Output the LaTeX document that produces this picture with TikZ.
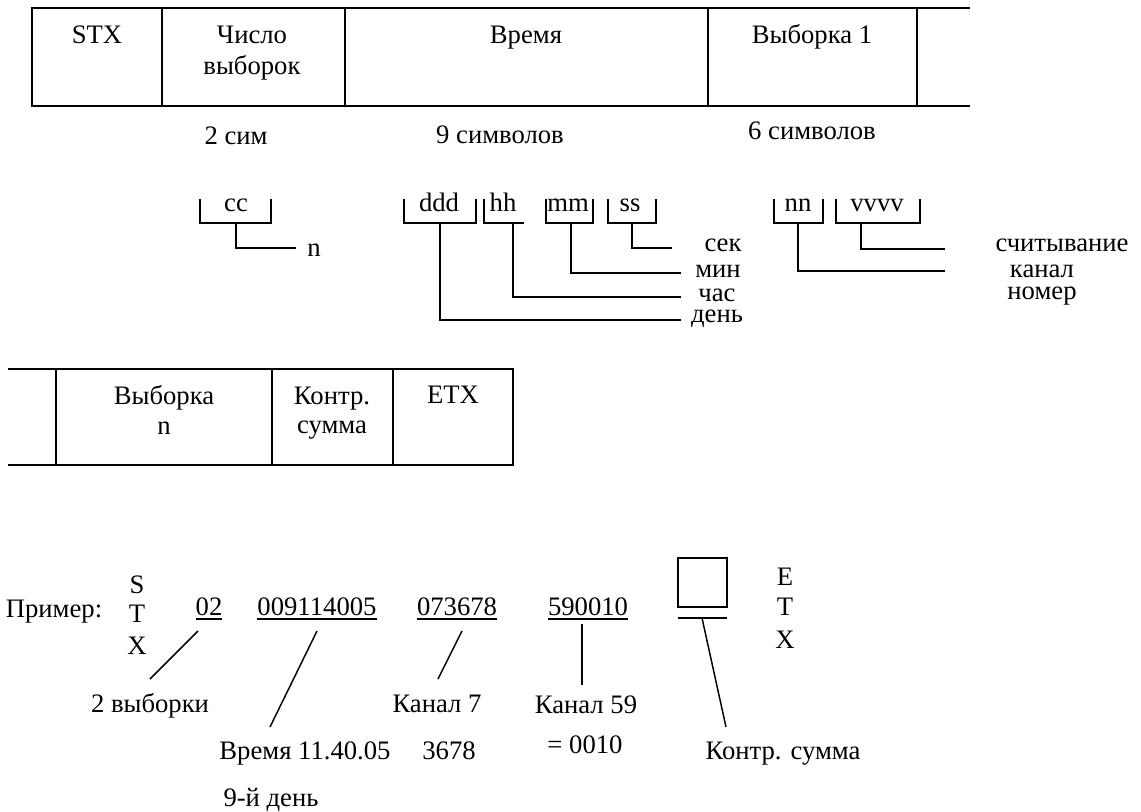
\documentclass[tikz,border=0pt]{standalone}
\usepackage{fontspec}
\setmainfont{Liberation Serif}
\begin{document}
\begin{tikzpicture}[x=0.75pt,y=-0.75pt,
  every node/.style={inner sep=0pt,outer sep=0pt,anchor=base,font=\fontsize{20}{24}\selectfont},
  frame/.style={line width=1.5pt},
  conn/.style={line width=1.1pt},
  ul/.style={line width=1.1pt}]
\useasboundingbox (0,0) rectangle (1141,812);

% ---------- top table ----------
\draw[frame] (970,8) -- (32,8) -- (32,106) -- (970,106);
\foreach \x in {162,345,708,917} \draw[frame] (\x,8) -- (\x,106);
\node (stx) at (97,44) {STX};
\node (chislo1) at (252,44) {Число};
\node (chislo2) at (252,75) {выборок};
\node (vremya) at (526,44) {Время};
\node (vyb1) at (812,44) {Выборка 1};

\node (c2) at (236,145) {2 сим};
\node (c9) at (500,144) {9 символов};
\node (c6) at (812,140) {6 символов};

% ---------- brackets ----------
\node (cc) at (236,212) {cc};
\draw[conn] (200,199) |- (271,223) -- (271,199);
\node (ddd) at (439,212) {ddd};
\draw[conn] (404,199) |- (476,223) -- (476,199);
\node (hh) at (503,212) {hh};
\draw[conn] (484,199) |- (524,223);
\node (mm) at (568,212) {mm};
\draw[conn] (546,199) |- (593,223) -- (593,199);
\node (ss) at (630,212) {ss};
\draw[conn] (608,199) |- (656,223) -- (656,199);
\node (nn) at (798,212) {nn};
\draw[conn] (774,199) |- (823,223) -- (823,199);
\node (vvvv) at (877,212) {vvvv};
\draw[conn] (836,199) |- (920,223) -- (920,199);

\coordinate (ccB) at (236,223);   \coordinate (nE) at (296,248);
\coordinate (ssB) at (632,223);   \coordinate (sekE) at (672,248);
\coordinate (mmB) at (571,223);   \coordinate (minE) at (681,273);
\coordinate (hhB) at (513,223);   \coordinate (chasE) at (681,297);
\coordinate (dddB) at (440,223);  \coordinate (denE) at (681,320);
\coordinate (vvB) at (861,223);   \coordinate (schE) at (945,249);
\coordinate (nnB) at (798,223);   \coordinate (kanE) at (945,271);
\draw[conn] (ccB) |- (nE);
\draw[conn] (ssB) |- (sekE);
\draw[conn] (mmB) |- (minE);
\draw[conn] (hhB) |- (chasE);
\draw[conn] (dddB) |- (denE);
\draw[conn] (vvB) |- (schE);
\draw[conn] (nnB) |- (kanE);

\node (n) at (314,257) {n};
\node (sek) at (723,252) {сек};
\node (min) at (718,278) {мин};
\node (chas) at (717,302) {час};
\node (den) at (717,323) {день};
\node (sch) at (1062,252) {считывание};
\node (kanal) at (1042,278) {канал};
\node (nomer) at (1042,300) {номер};

% ---------- bottom table ----------
\draw[frame] (8,369) -- (513,369) -- (513,465) -- (8,465);
\foreach \x in {56,272,393} \draw[frame] (\x,369) -- (\x,465);
\node (vybn1) at (164,404) {Выборка};
\node (vybn2) at (164,434) {n};
\node (ks1) at (332,404) {Контр.};
\node (ks2) at (332,433) {сумма};
\node (etx) at (453,403) {ETX};

% ---------- example ----------
\node (primer) at (54,617) {Пример:};
\node (s1) at (137,593) {S};
\node (t1) at (137,622) {T};
\node (x1) at (137,654) {X};
\node (e02) at (209,615) {02};
\node (e009) at (317,615) {009114005};
\node (e073) at (457,615) {073678};
\node (e590) at (588,615) {590010};
\foreach \n in {e02,e009,e073,e590}
  \draw[ul] ([yshift=-3pt]\n.base west) -- ([yshift=-3pt]\n.base east);

\node (l2v) at (150,712) {2 выборки};
\node (lvr) at (305,759) {Время 11.40.05};
\node (l9d) at (271,806) {9-й день};
\node (lk7) at (437,712) {Канал 7};
\node (l3678) at (449,759) {3678};
\node (lk59) at (586,713) {Канал 59};
\node (l0010) at (585,753) {= 0010};
\node (lks) at (783,759) {Контр. сумма};

\coordinate (a02) at (198,631);  \coordinate (b02) at (150,679);
\coordinate (a009) at (317,631); \coordinate (b009) at (270,727);
\coordinate (a073) at (462,631); \coordinate (b073) at (438,679);
\coordinate (a590) at (582,624); \coordinate (b590) at (582,685);
\draw[conn] (a02) -- (b02);
\draw[conn] (a009) -- (b009);
\draw[conn] (a073) -- (b073);
\draw[conn] (a590) -- (b590);

\node[draw,frame,minimum width=49*0.75pt,minimum height=49*0.75pt,anchor=center] (box) at (702.5,582.5) {};
\coordinate (barL) at (678,618); \coordinate (barR) at (727,618);
\draw[frame] (barL) -- (barR);
\coordinate (boxA) at (702,618); \coordinate (boxB) at (726,727);
\draw[conn] (boxA) -- (boxB);

\node (e2) at (785,585) {E};
\node (t2) at (785,615) {T};
\node (x2) at (785,648) {X};
\end{tikzpicture}
\end{document}
